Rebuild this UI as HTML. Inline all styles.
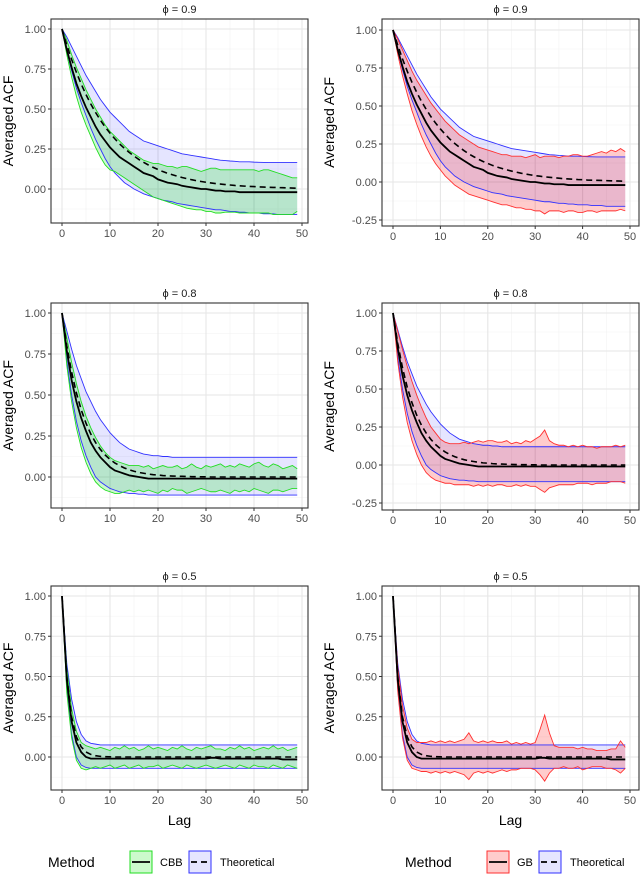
<!DOCTYPE html>
<html><head><meta charset="utf-8"><style>
body{margin:0;background:#fff;}
svg{display:block;font-family:"Liberation Sans","DejaVu Sans",sans-serif;}
</style></head><body>
<svg id="chart" width="640" height="875" viewBox="0 0 640 875" xmlns="http://www.w3.org/2000/svg"></svg>
<script>
const lags = Array.from({length:50},(_,i)=>i);
const xTicks = [0,10,20,30,40,50];
const yTicksStd = [0,0.25,0.5,0.75,1];
const yTicksNeg = [-0.25,0,0.25,0.5,0.75,1];
const phiLabels = ["0.9","0.8","0.5"];

const theo1 = [1,.9,.81,.729,.656,.590,.531,.478,.430,.387,.349,.314,.282,.254,.229,.206,.185,.167,.150,.135,.122,.109,.098,.089,.080,.072,.065,.058,.052,.047,.042,.038,.034,.031,.028,.025,.022,.020,.018,.016,.015,.013,.012,.011,.010,.009,.008,.007,.006,.005];
const mean1 = [1,.87,.76,.66,.58,.51,.45,.39,.34,.30,.26,.23,.20,.18,.16,.14,.12,.10,.09,.08,.06,.05,.04,.035,.03,.02,.015,.01,.005,0,0,-.005,-.01,-.01,-.015,-.015,-.015,-.02,-.02,-.02,-.02,-.02,-.02,-.02,-.02,-.02,-.02,-.02,-.02,-.02];
const tUp1 = [1,.95,.89,.83,.77,.71,.66,.61,.56,.52,.48,.45,.42,.39,.36,.34,.32,.30,.29,.28,.27,.26,.25,.24,.23,.22,.215,.21,.205,.20,.195,.19,.185,.18,.178,.175,.173,.17,.17,.17,.168,.167,.166,.165,.165,.165,.165,.165,.165,.165];
const tLo1 = [1,.86,.74,.63,.54,.46,.38,.31,.25,.19,.14,.10,.07,.04,.02,0,-.015,-.03,-.04,-.05,-.06,-.07,-.075,-.08,-.09,-.095,-.10,-.105,-.11,-.115,-.12,-.125,-.13,-.13,-.135,-.14,-.14,-.145,-.145,-.15,-.15,-.15,-.155,-.155,-.155,-.16,-.16,-.16,-.16,-.16];
const cbbUp1 = [1,.93,.84,.76,.69,.62,.56,.50,.45,.40,.36,.33,.30,.27,.24,.22,.20,.18,.17,.16,.16,.15,.14,.14,.13,.14,.14,.13,.12,.11,.12,.13,.13,.12,.12,.12,.12,.12,.12,.12,.12,.11,.12,.12,.11,.10,.09,.08,.07,.07];
const cbbLo1 = [1,.84,.70,.58,.48,.40,.33,.26,.20,.15,.12,.11,.09,.07,.05,.03,.01,-.01,-.03,-.05,-.06,-.07,-.08,-.09,-.10,-.11,-.12,-.125,-.13,-.13,-.14,-.14,-.15,-.15,-.145,-.145,-.145,-.15,-.15,-.15,-.15,-.15,-.15,-.15,-.16,-.16,-.16,-.16,-.16,-.14];
const gbUp1 = [1,.94,.87,.80,.73,.67,.62,.57,.52,.48,.44,.40,.37,.34,.31,.29,.27,.25,.23,.22,.21,.20,.19,.18,.18,.17,.17,.17,.16,.17,.18,.16,.17,.17,.17,.16,.17,.17,.18,.18,.17,.17,.18,.19,.20,.19,.21,.20,.22,.20];
const gbLo1 = [1,.84,.70,.58,.47,.38,.30,.23,.17,.12,.08,.04,.01,-.02,-.04,-.06,-.08,-.09,-.10,-.11,-.12,-.13,-.14,-.15,-.15,-.16,-.17,-.17,-.18,-.18,-.19,-.19,-.21,-.19,-.19,-.19,-.20,-.19,-.19,-.20,-.20,-.19,-.19,-.20,-.19,-.19,-.19,-.19,-.18,-.19];

const theo2 = [1,.8,.64,.512,.41,.328,.262,.21,.168,.134,.107,.086,.069,.055,.044,.035,.028,.023,.018,.014,.012,.009,.007,.006,.005,.004,.003,.002,.002,.001,.001,0,0,0,0,0,0,0,0,0,0,0,0,0,0,0,0,0,0,0];
const mean2 = [1,.77,.59,.46,.36,.28,.21,.16,.12,.09,.06,.04,.03,.02,.01,.005,0,-.005,-.01,-.01,-.01,-.01,-.01,-.01,-.01,-.01,-.01,-.01,-.01,-.01,-.01,-.01,-.01,-.01,-.01,-.01,-.01,-.01,-.01,-.01,-.01,-.01,-.01,-.01,-.01,-.01,-.01,-.01,-.01,-.01];
const tUp2 = [1,.89,.78,.68,.60,.52,.46,.40,.35,.31,.27,.24,.21,.19,.17,.16,.15,.14,.135,.13,.13,.125,.125,.12,.12,.12,.12,.12,.12,.12,.12,.12,.12,.12,.12,.12,.12,.12,.12,.12,.12,.12,.12,.12,.12,.12,.12,.12,.12,.12];
const tLo2 = [1,.71,.50,.34,.22,.13,.06,0,-.03,-.05,-.07,-.08,-.09,-.095,-.10,-.10,-.105,-.105,-.11,-.11,-.11,-.11,-.11,-.11,-.11,-.11,-.11,-.11,-.11,-.11,-.11,-.11,-.11,-.11,-.11,-.11,-.11,-.11,-.11,-.11,-.11,-.11,-.11,-.11,-.11,-.11,-.11,-.11,-.11,-.11];
const cbbUp2 = [1,.85,.70,.57,.46,.37,.30,.24,.19,.15,.12,.10,.09,.08,.07,.07,.07,.06,.07,.05,.06,.07,.06,.06,.07,.05,.06,.08,.06,.05,.07,.06,.07,.08,.06,.07,.06,.08,.07,.06,.08,.09,.07,.06,.08,.07,.05,.06,.07,.05];
const cbbLo2 = [1,.68,.46,.30,.18,.09,.02,-.03,-.06,-.08,-.09,-.10,-.10,-.09,-.08,-.09,-.08,-.09,-.08,-.09,-.10,-.08,-.09,-.07,-.08,-.08,-.10,-.09,-.08,-.07,-.08,-.09,-.09,-.08,-.09,-.10,-.08,-.09,-.08,-.09,-.07,-.08,-.09,-.10,-.08,-.08,-.09,-.08,-.07,-.07];
const gbUp2 = [1,.88,.76,.65,.55,.46,.38,.31,.25,.21,.17,.15,.14,.14,.14,.15,.14,.15,.16,.15,.16,.16,.15,.15,.16,.14,.15,.14,.16,.15,.17,.19,.23,.16,.14,.13,.13,.12,.13,.12,.13,.12,.12,.11,.12,.12,.12,.13,.12,.13];
const gbLo2 = [1,.68,.45,.28,.16,.07,0,-.05,-.08,-.10,-.11,-.12,-.12,-.13,-.13,-.13,-.13,-.14,-.13,-.14,-.13,-.14,-.13,-.13,-.14,-.14,-.13,-.14,-.13,-.14,-.14,-.16,-.18,-.15,-.14,-.13,-.13,-.13,-.13,-.12,-.12,-.12,-.13,-.12,-.12,-.12,-.11,-.11,-.11,-.12];

const theo3 = [1,.5,.25,.125,.0625,.031,.016,.008,.004,.002,.001,0,0,0,0,0,0,0,0,0,0,0,0,0,0,0,0,0,0,0,0,0,0,0,0,0,0,0,0,0,0,0,0,0,0,0,0,0,0,0];
const mean3 = [1,.48,.22,.09,.03,0,-.01,-.01,-.01,-.01,-.01,-.01,-.01,-.01,-.01,-.01,-.01,-.01,-.01,-.01,-.01,-.01,-.01,-.01,-.01,-.01,-.01,-.01,-.01,-.01,-.01,-.005,-.005,-.01,-.01,-.01,-.01,-.01,-.01,-.01,-.01,-.01,-.01,-.01,-.01,-.01,-.015,-.015,-.015,-.015];
const tUp3 = [1,.58,.36,.22,.14,.10,.085,.08,.075,.075,.075,.075,.075,.075,.075,.075,.075,.075,.075,.075,.075,.075,.075,.075,.075,.075,.075,.075,.075,.075,.075,.075,.075,.075,.075,.075,.075,.075,.075,.075,.075,.075,.075,.075,.075,.075,.075,.075,.075,.075];
const tLo3 = [1,.42,.14,0,-.05,-.065,-.07,-.07,-.07,-.07,-.07,-.07,-.07,-.07,-.07,-.07,-.07,-.07,-.07,-.07,-.07,-.07,-.07,-.07,-.07,-.07,-.07,-.07,-.07,-.07,-.07,-.07,-.07,-.07,-.07,-.07,-.07,-.07,-.07,-.07,-.07,-.07,-.07,-.07,-.07,-.07,-.07,-.07,-.07,-.07];
const cbbUp3 = [1,.55,.30,.16,.09,.07,.06,.05,.06,.05,.04,.06,.05,.07,.05,.06,.04,.05,.07,.05,.06,.05,.04,.06,.05,.07,.05,.04,.06,.05,.06,.07,.05,.05,.04,.06,.05,.07,.05,.06,.04,.05,.06,.05,.07,.05,.06,.04,.05,.06];
const cbbLo3 = [1,.40,.12,-.02,-.07,-.08,-.07,-.06,-.07,-.06,-.05,-.07,-.06,-.05,-.07,-.06,-.05,-.07,-.06,-.06,-.05,-.07,-.06,-.05,-.06,-.07,-.05,-.06,-.07,-.06,-.05,-.06,-.07,-.06,-.05,-.06,-.07,-.05,-.06,-.07,-.05,-.06,-.06,-.07,-.05,-.06,-.07,-.05,-.06,-.07];
const gbUp3 = [1,.56,.32,.18,.11,.09,.09,.09,.10,.09,.10,.09,.10,.09,.10,.11,.15,.10,.09,.10,.09,.10,.09,.09,.10,.08,.09,.08,.09,.08,.09,.17,.26,.15,.07,.06,.06,.06,.06,.05,.06,.05,.05,.04,.04,.04,.05,.05,.10,.06];
const gbLo3 = [1,.41,.12,-.02,-.07,-.08,-.09,-.09,-.10,-.09,-.10,-.09,-.10,-.09,-.10,-.11,-.14,-.10,-.09,-.10,-.09,-.10,-.09,-.08,-.09,-.08,-.08,-.07,-.07,-.07,-.08,-.11,-.15,-.10,-.07,-.07,-.06,-.07,-.07,-.06,-.08,-.07,-.06,-.06,-.06,-.07,-.07,-.08,-.10,-.07];

const NS="http://www.w3.org/2000/svg";
const svg=document.getElementById('chart');
function mk(tag,attrs,parent){const e=document.createElementNS(NS,tag);for(const k in attrs)e.setAttribute(k,attrs[k]);(parent||svg).appendChild(e);return e;}

const panels=[
 {row:0,col:0,bx0:51,bx1:308,by0:19,by1:223,x0:62,x50:302,y1:29,y0:189,yt:yTicksStd,theo:theo1,mean:mean1,tu:tUp1,tl:tLo1,mu:cbbUp1,ml:cbbLo1,m:'cbb'},
 {row:0,col:1,bx0:382,bx1:639,by0:19,by1:226,x0:393,x50:630,y1:30,y0:182,yt:yTicksNeg,theo:theo1,mean:mean1,tu:tUp1,tl:tLo1,mu:gbUp1,ml:gbLo1,m:'gb'},
 {row:1,col:0,bx0:51,bx1:308,by0:303,by1:508,x0:62,x50:302,y1:313,y0:477,yt:yTicksStd,theo:theo2,mean:mean2,tu:tUp2,tl:tLo2,mu:cbbUp2,ml:cbbLo2,m:'cbb'},
 {row:1,col:1,bx0:382,bx1:639,by0:303,by1:510,x0:393,x50:630,y1:313,y0:465,yt:yTicksNeg,theo:theo2,mean:mean2,tu:tUp2,tl:tLo2,mu:gbUp2,ml:gbLo2,m:'gb'},
 {row:2,col:0,bx0:51,bx1:308,by0:586,by1:790,x0:62,x50:302,y1:596,y0:757,yt:yTicksStd,theo:theo3,mean:mean3,tu:tUp3,tl:tLo3,mu:cbbUp3,ml:cbbLo3,m:'cbb'},
 {row:2,col:1,bx0:382,bx1:639,by0:586,by1:790,x0:393,x50:630,y1:596,y0:757,yt:yTicksStd,theo:theo3,mean:mean3,tu:tUp3,tl:tLo3,mu:gbUp3,ml:gbLo3,m:'gb'}
];
const colors={cbb:{fill:'rgba(0,230,0,0.2)',line:'#22dd22'},gb:{fill:'rgba(255,0,0,0.2)',line:'#ff3030'}};

panels.forEach(p=>{
 const g=mk('g',{});
 
 
 const X=v=>p.x0+(p.x50-p.x0)*v/50;
 const Y=v=>p.y0+(p.y1-p.y0)*v;
 for(let v=5;v<55;v+=10){const x=X(v);if(x>p.bx0&&x<p.bx1)mk('line',{x1:x,x2:x,y1:p.by0,y2:p.by1,stroke:'#f2f2f2','stroke-width':0.6},g);}
 for(let v=-0.375;v<1.1;v+=0.25){const y=Y(v);if(y>p.by0&&y<p.by1)mk('line',{x1:p.bx0,x2:p.bx1,y1:y,y2:y,stroke:'#f2f2f2','stroke-width':0.6},g);}
 xTicks.forEach(v=>mk('line',{x1:X(v),x2:X(v),y1:p.by0,y2:p.by1,stroke:'#e6e6e6','stroke-width':1.1},g));
 p.yt.forEach(v=>mk('line',{x1:p.bx0,x2:p.bx1,y1:Y(v),y2:Y(v),stroke:'#e6e6e6','stroke-width':1.1},g));
 const n=Math.min(p.mu.length,p.ml.length,p.tu.length,p.tl.length,lags.length);
 const idx=lags.slice(0,n);
 const band=(up,lo)=>{let d='M'+idx.map(i=>X(i)+','+Y(up[i])).join(' L');d+=' L'+idx.slice().reverse().map(i=>X(i)+','+Y(lo[i])).join(' L')+' Z';return d;};
 const line=arr=>'M'+idx.map(i=>X(i)+','+Y(arr[i])).join(' L');
 const tb=mk('path',{d:band(p.tu,p.tl),fill:'rgba(0,0,255,0.1)',stroke:'none'},g);
 
 
 const mb=mk('path',{d:band(p.mu,p.ml),fill:colors[p.m].fill,stroke:'none'},g);
 
 
 [p.tu,p.tl].forEach(a=>mk('path',{d:line(a),fill:'none',stroke:'#3030ff','stroke-width':0.9},g));
 [p.mu,p.ml].forEach(a=>mk('path',{d:line(a),fill:'none',stroke:colors[p.m].line,'stroke-width':0.9},g));
 const ml=mk('path',{d:line(p.mean),fill:'none',stroke:'#000','stroke-width':1.8},g);
 
 
 const tl=mk('path',{d:line(p.theo),fill:'none',stroke:'#000','stroke-width':1.6,'stroke-dasharray':'6,4'},g);
 
 
 mk('rect',{x:p.bx0,y:p.by0,width:p.bx1-p.bx0,height:p.by1-p.by0,fill:'none',stroke:'#333','stroke-width':1.1},g);
 xTicks.forEach(v=>{mk('line',{x1:X(v),x2:X(v),y1:p.by1,y2:p.by1+3,stroke:'#333'},g);
  const t=mk('text',{x:X(v),y:p.by1+14,'text-anchor':'middle','font-size':11,fill:'#4d4d4d'},g);t.textContent=v;});
 p.yt.forEach(v=>{mk('line',{x1:p.bx0-3,x2:p.bx0,y1:Y(v),y2:Y(v),stroke:'#333'},g);
  const t=mk('text',{x:p.bx0-5,y:Y(v)+4,'text-anchor':'end','font-size':11,fill:'#4d4d4d'},g);t.textContent=v.toFixed(2);});
 const ti=mk('text',{x:(p.bx0+p.bx1)/2,y:p.by0-6,'text-anchor':'middle','font-size':11,fill:'#1a1a1a'},g);
 ti.textContent='ϕ = '+phiLabels[p.row];
 
 
 const yc=(p.by0+p.by1)/2, xc=p.col?334:13;
 const ya=mk('text',{x:xc,y:yc,'text-anchor':'middle','font-size':14,fill:'#000',transform:'rotate(-90 '+xc+' '+yc+')'},g);
 ya.textContent='Averaged ACF';
 
 
 if(p.row===2){const xa=mk('text',{x:(p.bx0+p.bx1)/2,y:p.by1+35,'text-anchor':'middle','font-size':14,fill:'#000'},g);xa.textContent='Lag';
  
  }
});

function legend(x,method,label,fill,stroke){
 const g=mk('g',{});
 
 
 const y=862;
 const t=mk('text',{x:x,y:y+5,'font-size':14,fill:'#000'},g);t.textContent='Method';
 const k1=x+82;
 mk('rect',{x:k1,y:y-11,width:22,height:22,fill:fill,stroke:stroke,'stroke-width':1},g);
 mk('line',{x1:k1+2,x2:k1+20,y1:y,y2:y,stroke:'#000','stroke-width':1.8},g);
 const t2=mk('text',{x:k1+30,y:y+4,'font-size':11,fill:'#000'},g);t2.textContent=label;
 const k2=k1+30+label.length*7+8;
 mk('rect',{x:k2,y:y-11,width:22,height:22,fill:'rgba(0,0,255,0.1)',stroke:'#3030ff','stroke-width':1},g);
 mk('line',{x1:k2+2,x2:k2+20,y1:y,y2:y,stroke:'#000','stroke-width':1.8,'stroke-dasharray':'6,4'},g);
 const t3=mk('text',{x:k2+31,y:y+4,'font-size':11,fill:'#000'},g);t3.textContent='Theoretical';
}
legend(48,'cbb','CBB','rgba(0,230,0,0.2)','#22dd22');
legend(405,'gb','GB','rgba(255,0,0,0.2)','#ff3030');
</script>
</body></html>
